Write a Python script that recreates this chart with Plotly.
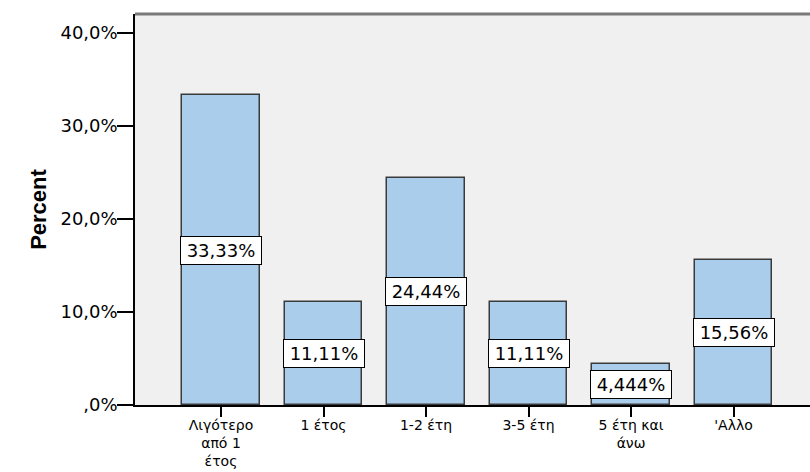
import plotly.graph_objects as go

categories = ["Λιγότερο<br>από 1<br>έτος", "1 έτος", "1-2 έτη", "3-5 έτη", "5 έτη και<br>άνω", "'Αλλο"]
percent_values = [33.33, 11.11, 24.44, 11.11, 4.444, 15.56]
value_labels = ["33,33%", "11,11%", "24,44%", "11,11%", "4,444%", "15,56%"]
y_tick_values = [0, 10, 20, 30, 40]
y_tick_labels = [",0%", "10,0%", "20,0%", "30,0%", "40,0%"]

fig = go.Figure()
fig.add_trace(go.Bar(
    x=list(range(len(categories))),
    y=percent_values,
    width=0.76,
    marker=dict(color="#abcdec", line=dict(color="#3a3a3a", width=1.5)),
    hoverinfo="skip",
))

for i, (v, lab) in enumerate(zip(percent_values, value_labels)):
    fig.add_annotation(
        x=i, y=v / 2, xref="x", yref="y",
        text=lab, showarrow=False,
        font=dict(family="DejaVu Sans", size=18, color="black"),
        bgcolor="white", bordercolor="black", borderwidth=1, borderpad=1,
        width=78, height=25,
    )

fig.add_shape(type="line", xref="paper", yref="paper", x0=0, x1=1, y0=1, y1=1,
              line=dict(color="#7a7a7a", width=3))

fig.update_layout(
    width=810, height=472,
    margin=dict(l=135, r=0, t=14, b=67),
    paper_bgcolor="white",
    plot_bgcolor="#f0f0f0",
    showlegend=False,
    bargap=0,
    xaxis=dict(
        range=[-0.839, 5.746],
        tickmode="array",
        tickvals=list(range(len(categories))),
        ticktext=categories,
        ticks="outside", ticklen=10, tickwidth=1.5, tickcolor="black",
        showline=True, linecolor="black", linewidth=1.5,
        showgrid=False, zeroline=False,
        tickfont=dict(family="DejaVu Sans", size=14, color="black"),
        ticklabelstandoff=-4,
        automargin=False,
        fixedrange=True,
    ),
    yaxis=dict(
        range=[0, 42.04],
        tickmode="array",
        tickvals=y_tick_values,
        ticktext=y_tick_labels,
        ticks="outside", ticklen=16, tickwidth=1.5, tickcolor="black",
        showline=True, linecolor="black", linewidth=1.5,
        showgrid=False, zeroline=False,
        tickfont=dict(family="DejaVu Sans", size=18, color="black"),
        ticklabelstandoff=-4,
        automargin=False,
        title=dict(text="<b>Percent</b>", font=dict(family="Arial", size=22, color="black"), standoff=8),
        fixedrange=True,
    ),
)

fig.write_html("out.html")
